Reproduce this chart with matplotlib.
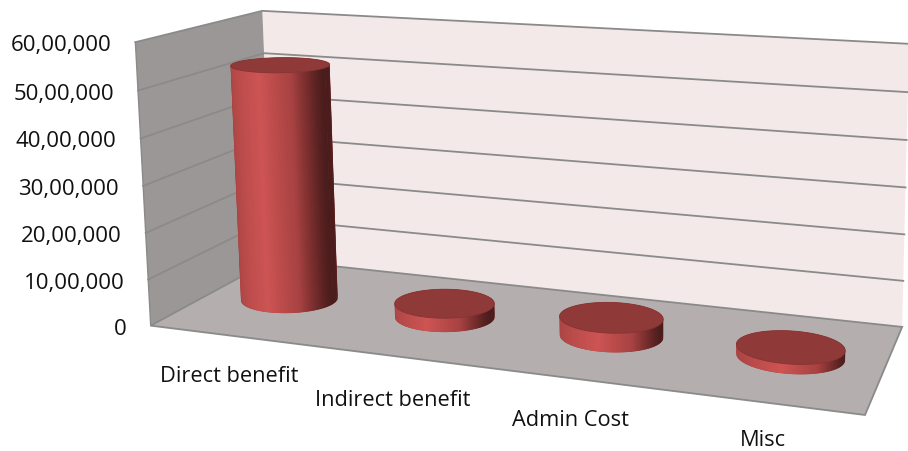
import numpy as np
import matplotlib
matplotlib.use("Agg")
import matplotlib.pyplot as plt
from matplotlib.colors import LinearSegmentedColormap
from matplotlib.patches import Polygon

categories = ["Direct benefit", "Indirect benefit", "Admin Cost", "Misc"]
values = [5230000, 300000, 400000, 200000]
tick_values = [0, 1000000, 2000000, 3000000, 4000000, 5000000, 6000000]
tick_labels = ["0", "10,00,000", "20,00,000", "30,00,000", "40,00,000", "50,00,000", "60,00,000"]
axis_max = 6000000

# where the box corners end up on screen: (x, depth, height) -> pixel
model_pts = [(0, 0, 0), (0, 0, 1), (0, 1, 0), (0, 1, 1), (1, 1, 0), (1, 1, 1), (1, 0, 0)]
screen_pts = [(155, 323), (131, 43), (268, 262), (267, 10), (903, 325), (908, 44), (865, 417)]

# category labels sit off the floor edge, not evenly spaced
label_pos = [(229, 382), (393, 406), (570, 426), (763, 446)]

BACK_WALL = "#f4e9e9"
SIDE_WALL = "#9c9797"
FLOOR = "#b5aeae"
GRID = "#8a8a8a"
CAP = "#8f3a39"
side_cmap = LinearSegmentedColormap.from_list(
    "side", [(0, "#a84443"), (0.5, "#cd5453"), (0.8, "#a84242"), (0.93, "#702a2a"), (1, "#4a1c1c")]
)


def fit_camera(model, screen):
    rows = []
    for (x, y, z), (u, v) in zip(model, screen):
        rows.append([x, y, z, 1, 0, 0, 0, 0, -u * x, -u * y, -u * z, -u])
        rows.append([0, 0, 0, 0, x, y, z, 1, -v * x, -v * y, -v * z, -v])
    _, _, vt = np.linalg.svd(np.array(rows, dtype=float))
    return vt[-1].reshape(3, 4)


cam = fit_camera(model_pts, screen_pts)


def project(x, y, z):
    x, y, z = np.broadcast_arrays(np.asarray(x, float), np.asarray(y, float), np.asarray(z, float))
    p = cam @ np.stack([x.ravel(), y.ravel(), z.ravel(), np.ones(x.size)])
    return np.column_stack([p[0] / p[2], p[1] / p[2]])


def convex_hull(pts):
    pts = sorted(map(tuple, pts))

    def half(seq):
        out = []
        for p in seq:
            while len(out) > 1 and (out[-1][0] - out[-2][0]) * (p[1] - out[-2][1]) - (out[-1][1] - out[-2][1]) * (p[0] - out[-2][0]) <= 0:
                out.pop()
            out.append(p)
        return out[:-1]

    return np.array(half(pts) + half(pts[::-1]))


def face(ax, corners, color, edge=GRID):
    xs, ys, zs = zip(*corners)
    ax.add_patch(Polygon(project(xs, ys, zs), closed=True, facecolor=color, edgecolor=edge, lw=1.3, zorder=1))


def cylinder(ax, xc, height, rx=0.072, ry=0.19, yc=0.5):
    theta = np.linspace(0, 2 * np.pi, 241)
    xs = xc + rx * np.cos(theta)
    ys = yc + ry * np.sin(theta)
    low = project(xs, ys, 0 * xs)
    top = project(xs, ys, 0 * xs + height)

    # the outline clips the shading strips so the edge stays clean
    hull = Polygon(convex_hull(np.vstack([low, top])), closed=True, facecolor="#a84443", edgecolor="none", zorder=3)
    ax.add_patch(hull)
    order = np.argsort(-np.sin(theta[:-1]))
    for i in order:
        t = (np.cos(theta[i]) + 1) / 2
        j = min(i + 2, len(theta) - 1)
        quad = [low[i], low[j], top[j], top[i]]
        strip = Polygon(quad, closed=True, facecolor=side_cmap(t), edgecolor="none", zorder=3)
        ax.add_patch(strip)
        strip.set_clip_path(hull)
    ax.add_patch(Polygon(top, closed=True, facecolor=CAP, edgecolor="#863433", lw=0.6, zorder=4))


def main():
    plt.rcParams["font.family"] = ["Open Sans", "DejaVu Sans"]
    fig = plt.figure(figsize=(9.08, 4.51), dpi=100)
    ax = fig.add_axes([0, 0, 1, 1])
    ax.set_xlim(0, 908)
    ax.set_ylim(451, 0)
    ax.axis("off")

    face(ax, [(0, 1, 0), (1, 1, 0), (1, 1, 1), (0, 1, 1)], BACK_WALL, edge="none")
    face(ax, [(0, 0, 0), (0, 1, 0), (0, 1, 1), (0, 0, 1)], SIDE_WALL, edge="none")
    face(ax, [(0, 0, 0), (1, 0, 0), (1, 1, 0), (0, 1, 0)], FLOOR)

    for val in tick_values[1:]:
        z = val / axis_max
        line = project([0, 0, 1], [0, 1, 1], [z, z, z])
        ax.plot(line[:, 0], line[:, 1], color=GRID, lw=1.3, zorder=2)
    left = project([0, 0], [0, 0], [0, 1])
    ax.plot(left[:, 0], left[:, 1], color=GRID, lw=1.0, zorder=2)

    for i, val in enumerate(values):
        cylinder(ax, (i + 0.5) / len(values), val / axis_max)

    for val, label in zip(tick_values, tick_labels):
        px = project(0, 0, val / axis_max)[0]
        ax.text(px[0] - 24, px[1] + 9, label, ha="right", va="baseline", fontsize=16, color="#111111")

    for label, (lx, ly) in zip(categories, label_pos):
        ax.text(lx, ly, label, ha="center", va="baseline", fontsize=15.7, color="#111111")

    fig.savefig("out.png", dpi=100)


if __name__ == "__main__":
    main()
